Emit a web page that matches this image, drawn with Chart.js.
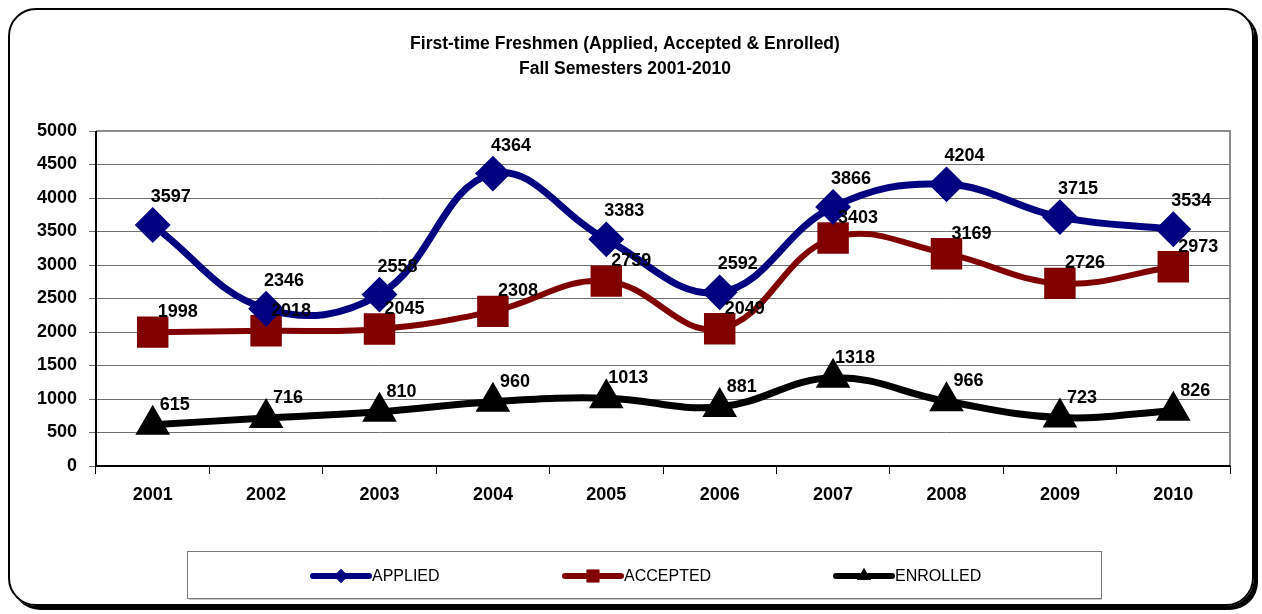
<!DOCTYPE html>
<html>
<head>
<meta charset="utf-8">
<script src="https://cdn.jsdelivr.net/npm/chart.js@4.4.1/dist/chart.umd.min.js"></script>
<style>
  html, body { margin: 0; padding: 0; background: #fff; }
  #wrap { position: relative; width: 1262px; height: 614px; }
  #frame {
    position: absolute; left: 8px; top: 8px; width: 1242px; height: 594px;
    border: 2px solid #000; border-radius: 28px; box-shadow: 4px 4px 0 #000;
    pointer-events: none;
  }
</style>
</head>
<body>
<div id="wrap">
  <canvas id="myChart" width="1262" height="614"></canvas>
  <div id="frame"></div>
</div>
<script>
const FONT = "'Liberation Sans Narrow', 'Liberation Sans', Arial, sans-serif";

const years = ["2001", "2002", "2003", "2004", "2005", "2006", "2007", "2008", "2009", "2010"];
const applied = [3597, 2346, 2558, 4364, 3383, 2592, 3866, 4204, 3715, 3534];
const accepted = [1998, 2018, 2045, 2308, 2759, 2049, 3403, 3169, 2726, 2973];
const enrolled = [615, 716, 810, 960, 1013, 881, 1318, 966, 723, 826];
const yTicks = [0, 500, 1000, 1500, 2000, 2500, 3000, 3500, 4000, 4500, 5000];

// value labels, drawn next to each point
const valueLabels = {
  id: "valueLabels",
  afterDatasetsDraw(chart) {
    const ctx = chart.ctx;
    ctx.save();
    ctx.font = "bold 18px " + FONT;
    ctx.fillStyle = "#000";
    ctx.textAlign = "center";
    ctx.textBaseline = "middle";
    chart.data.datasets.forEach((ds, i) => {
      const meta = chart.getDatasetMeta(i);
      meta.data.forEach((pt, j) => {
        ctx.fillText(String(ds.data[j]), pt.x + ds.labelDx, pt.y + ds.labelDy);
      });
    });
    ctx.restore();
  },
};

// plot frame: grey box, black axes
const plotFrame = {
  id: "plotFrame",
  beforeDatasetsDraw(chart) {
    const { ctx, chartArea: a } = chart;
    ctx.save();
    ctx.strokeStyle = "#8c8c8c";
    ctx.lineWidth = 2;
    ctx.beginPath();
    ctx.moveTo(a.left, a.top);
    ctx.lineTo(a.right, a.top);
    ctx.lineTo(a.right, a.bottom);
    ctx.stroke();
    ctx.strokeStyle = "#000";
    ctx.lineWidth = 2;
    ctx.beginPath();
    ctx.moveTo(a.left, a.top);
    ctx.lineTo(a.left, a.bottom);
    ctx.lineTo(a.right, a.bottom);
    ctx.stroke();
    ctx.restore();
  },
};

// boxed legend, line + marker + text
const boxLegend = {
  id: "boxLegend",
  afterDraw(chart) {
    const ctx = chart.ctx;
    ctx.save();
    ctx.fillStyle = "#c8c8c8";
    ctx.fillRect(189, 598, 913, 2);
    ctx.fillStyle = "#fff";
    ctx.fillRect(187, 551, 914, 47);
    ctx.strokeStyle = "#7a7a7a";
    ctx.lineWidth = 1;
    ctx.strokeRect(187.5, 551.5, 914, 47);
    const starts = [313, 565, 836];
    const cy = 576;
    chart.data.datasets.forEach((ds, i) => {
      const x0 = starts[i];
      ctx.strokeStyle = ds.borderColor;
      ctx.lineWidth = 6;
      ctx.lineCap = "round";
      ctx.beginPath();
      ctx.moveTo(x0, cy);
      ctx.lineTo(x0 + 56, cy);
      ctx.stroke();
      ctx.fillStyle = ds.borderColor;
      Chart.helpers.drawPoint(ctx, { pointStyle: ds.pointStyle, radius: ds.legendRadius, rotation: 0, borderWidth: 0 }, x0 + 28, cy);
      ctx.fill();
      ctx.fillStyle = "#000";
      ctx.font = "16px " + FONT;
      ctx.textAlign = "left";
      ctx.textBaseline = "middle";
      ctx.fillText(ds.label, x0 + 59, cy + 1);
    });
    ctx.restore();
  },
};

const ctx = document.getElementById("myChart");

const chart = new Chart(ctx, {
  type: "line",
  data: {
    labels: years,
    datasets: [
      {
        label: "APPLIED",
        data: applied,
        borderColor: "#000080",
        backgroundColor: "#000080",
        borderWidth: 7,
        pointStyle: "rectRot",
        pointRadius: 13,
        legendRadius: 7,
        labelDx: 18,
        labelDy: -28,
      },
      {
        label: "ACCEPTED",
        data: accepted,
        borderColor: "#800000",
        backgroundColor: "#800000",
        borderWidth: 6,
        pointStyle: "rect",
        pointRadius: 18,
        legendRadius: 9,
        labelDx: 25,
        labelDy: -20,
      },
      {
        label: "ENROLLED",
        data: enrolled,
        borderColor: "#000000",
        backgroundColor: "#000000",
        borderWidth: 7,
        pointStyle: "triangle",
        pointRadius: 13,
        legendRadius: 8,
        labelDx: 22,
        labelDy: -20,
      },
    ],
  },
  options: {
    responsive: false,
    animation: false,
    events: [],
    layout: {
      padding: { left: 20, right: 32, top: 0, bottom: 80 },
    },
    elements: {
      line: { tension: 0.4, fill: false },
      point: { borderWidth: 1, hoverRadius: 13 },
    },
    scales: {
      x: {
        offset: true,
        afterFit(s) { s.height = 68; },
        grid: {
          offset: true,
          drawOnChartArea: false,
          color: "#000",
          tickLength: 8,
        },
        border: { display: false },
        ticks: {
          color: "#000",
          padding: 10,
          maxRotation: 0,
          font: { family: FONT, size: 18, weight: "bold" },
        },
      },
      y: {
        min: 0,
        max: 5000,
        afterFit(s) { s.width = 76; },
        afterBuildTicks(s) { s.ticks = yTicks.map((v) => ({ value: v })); },
        grid: {
          color: "#6e6e6e",
          lineWidth: 1,
          tickLength: 7,
        },
        border: { display: false },
        ticks: {
          color: "#000",
          padding: 12,
          callback: (v) => String(v),
          font: { family: FONT, size: 18, weight: "bold" },
        },
      },
    },
    plugins: {
      legend: { display: false },
      tooltip: { enabled: false },
      title: {
        display: true,
        text: ["First-time Freshmen (Applied, Accepted & Enrolled)", "Fall Semesters 2001-2010"],
        color: "#000",
        font: { family: FONT, size: 17.5, weight: "bold", lineHeight: 1.4 },
        padding: { top: 32, bottom: 50 },
      },
    },
  },
  plugins: [plotFrame, valueLabels, boxLegend],
});
</script>
</body>
</html>
